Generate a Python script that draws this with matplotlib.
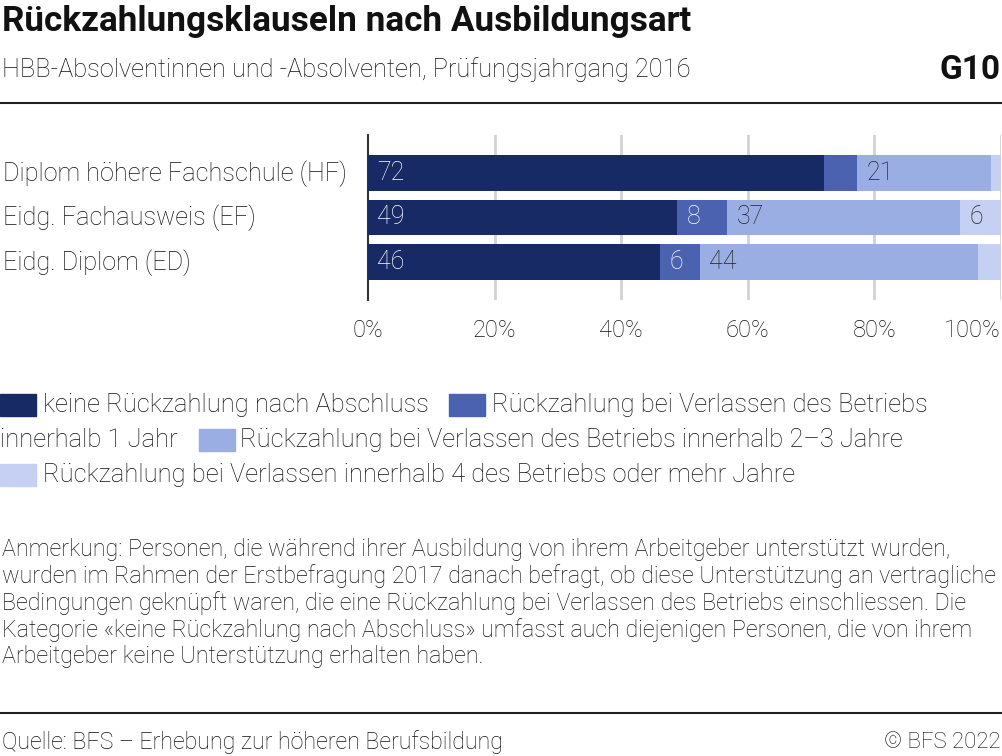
import matplotlib.pyplot as plt
import numpy as np

plt.rcParams['font.family'] = ['Roboto', 'DejaVu Sans']
plt.rcParams['font.weight'] = 'light'

# Daten
categories = ['Diplom höhere Fachschule (HF)', 'Eidg. Fachausweis (EF)', 'Eidg. Diplom (ED)']
keine = [72.0, 48.8, 46.2]
bis_1 = [5.3, 7.9, 6.2]
bis_2_3 = [21.1, 36.8, 43.9]
ab_4 = [1.6, 6.5, 3.7]
series = [keine, bis_1, bis_2_3, ab_4]
labels = ['keine Rückzahlung nach Abschluss',
          'Rückzahlung bei Verlassen des Betriebs innerhalb 1 Jahr',
          'Rückzahlung bei Verlassen des Betriebs innerhalb 2–3 Jahre',
          'Rückzahlung bei Verlassen innerhalb 4 des Betriebs oder mehr Jahre']
colors = ['#172a66', '#4a62b0', '#9aaee4', '#c5d0f2']
text_colors = ['white', 'white', '#222222', '#222222']
ticks = [0, 20, 40, 60, 80, 100]
ink = '#111111'

W, H = 1003, 756
fig = plt.figure(figsize=(W / 100, H / 100), dpi=100)


def px(x, y):
    return x / W, 1 - y / H


# Kopf
fig.text(*px(2, 21), 'Rückzahlungsklauseln nach Ausbildungsart', fontsize=25.3,
         fontweight='bold', va='center', ha='left', color=ink)
fig.text(*px(2, 70), 'HBB-Absolventinnen und -Absolventen, Prüfungsjahrgang 2016',
         fontsize=18.3, va='center', ha='left', color=ink)
fig.text(*px(1001, 70), 'G10', fontsize=24, fontweight='bold', va='center',
         ha='right', color=ink)
fig.add_artist(plt.Line2D([0, 1], [1 - 103 / H] * 2, color='#222222', lw=1.5))

# Diagramm
l, r = 368 / W, 1001 / W
t, b = 1 - 135 / H, 1 - 300 / H
ax = fig.add_axes([l, b, r - l, t - b])
y = np.arange(len(categories))
left = np.zeros(len(categories))
for vals, c, tc in zip(series, colors, text_colors):
    ax.barh(y, vals, left=left, height=0.79, color=c, zorder=3)
    for yi, (v, le) in enumerate(zip(vals, left)):
        if v >= 5.5:
            ax.text(le + 1.5, yi, f'{v:.0f}', color=tc, va='center', ha='left',
                    fontsize=18, zorder=4)
    left += np.array(vals)

ax.set_xlim(0, 100)
ax.set_ylim(2.85, -0.85)
ax.set_xticks(ticks)
ax.set_xticklabels([f'{v}%' for v in ticks], fontsize=17, color=ink)
ax.get_xticklabels()[-1].set_ha('right')
ax.tick_params(axis='x', length=0, pad=14)
ax.set_yticks([])
for xv in ticks[1:]:
    ax.axvline(xv, color='#d3d3d3', lw=2, zorder=1)
for s in ['top', 'right', 'bottom']:
    ax.spines[s].set_visible(False)
ax.spines['left'].set_color('#333333')
ax.spines['left'].set_linewidth(1.5)
for yi, cat in enumerate(categories):
    fig.text(*px(3, [174, 218, 263][yi]), cat, fontsize=18.2, va='center',
             ha='left', color=ink)

# Legende
def patch(x, yc, c):
    fig.patches.append(plt.Rectangle(px(x, yc + 11), 36 / W, 22 / H, color=c,
                                     transform=fig.transFigure, figure=fig))


fs_leg = 18.4
patch(0, 405, colors[0])
fig.text(*px(43, 405), labels[0], fontsize=fs_leg, va='center', color=ink)
patch(449, 405, colors[1])
fig.text(*px(492, 405), 'Rückzahlung bei Verlassen des Betriebs', fontsize=fs_leg,
         va='center', color=ink)
fig.text(*px(0, 440), 'innerhalb 1 Jahr', fontsize=fs_leg, va='center', color=ink)
patch(199, 440, colors[2])
fig.text(*px(240, 440), labels[2], fontsize=fs_leg, va='center', color=ink)
patch(0, 475, colors[3])
fig.text(*px(43, 475), labels[3], fontsize=fs_leg, va='center', color=ink)

# Anmerkung
note = ('Anmerkung: Personen, die während ihrer Ausbildung von ihrem Arbeitgeber unterstützt wurden,\n'
        'wurden im Rahmen der Erstbefragung 2017 danach befragt, ob diese Unterstützung an vertragliche\n'
        'Bedingungen geknüpft waren, die eine Rückzahlung bei Verlassen des Betriebs einschliessen. Die\n'
        'Kategorie «keine Rückzahlung nach Abschluss» umfasst auch diejenigen Personen, die von ihrem\n'
        'Arbeitgeber keine Unterstützung erhalten haben.')
fig.text(*px(2, 538), note, fontsize=16.75, va='top', ha='left', color=ink,
         linespacing=1.16)

# Fuss
fig.add_artist(plt.Line2D([0, 1], [1 - 713 / H] * 2, color='#222222', lw=1.5))
fig.text(*px(2, 742), 'Quelle: BFS – Erhebung zur höheren Berufsbildung',
         fontsize=16.7, va='center', color=ink)
fig.text(*px(1001, 742), '© BFS 2022', fontsize=16, va='center', ha='right',
         color=ink)

fig.savefig('out.png', dpi=100)
